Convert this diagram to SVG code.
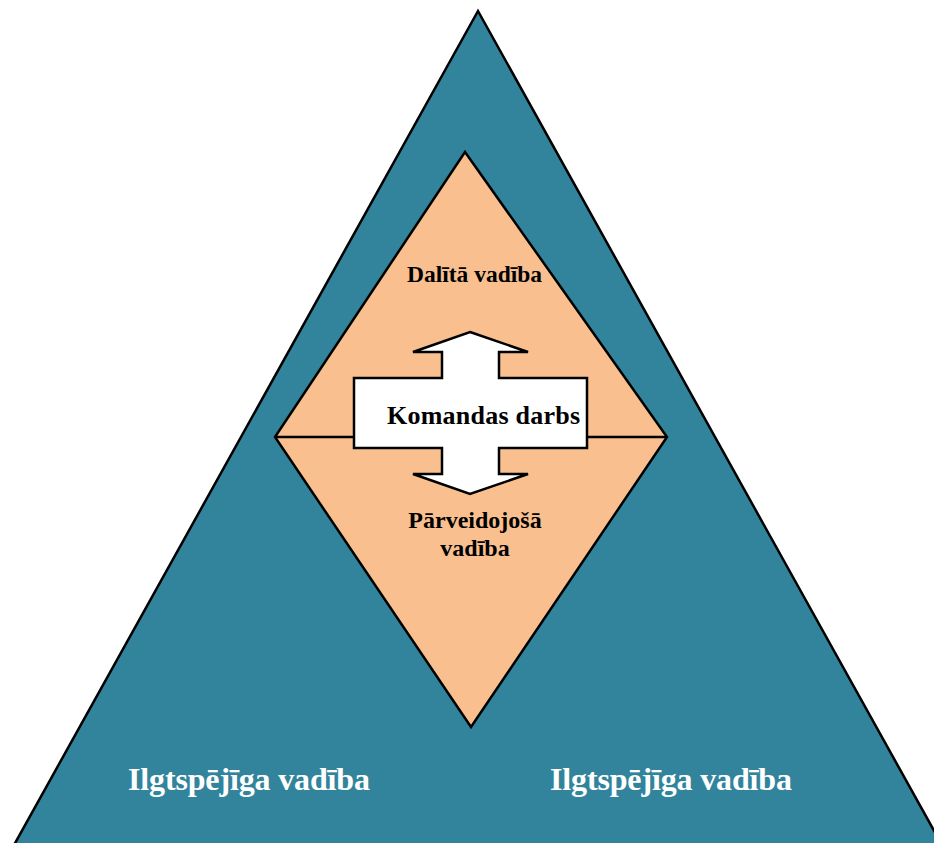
<svg xmlns="http://www.w3.org/2000/svg" width="934" height="843" viewBox="0 0 934 843">
<style>
.ol{stroke:#000;stroke-width:2.5;stroke-linejoin:miter}
.t{font-family:"Liberation Serif","Times New Roman",serif;font-weight:bold}
</style>
<rect width="934" height="843" fill="#fff"/>
<g id="triangle">
<polygon class="ol" points="478,11 942,845 14,845" fill="#31849b"/>
<text class="t" x="128" y="790" font-size="32" fill="#fff" textLength="242">Ilgtspējīga vadība</text>
<text class="t" x="550" y="790" font-size="32" fill="#fff" textLength="242">Ilgtspējīga vadība</text>
</g>
<g id="diamond">
<polygon class="ol" points="465,152 667,437 471,727 275,437" fill="#f9bf8f"/>
<line x1="275" y1="437" x2="667" y2="437" stroke="#000" stroke-width="2.5"/>
<text class="t" x="474.5" y="282" font-size="23.5" fill="#000" text-anchor="middle">Dalītā vadība</text>
<text class="t" x="475" y="528" font-size="24" fill="#000" text-anchor="middle">Pārveidojošā</text>
<text class="t" x="475" y="556" font-size="24" fill="#000" text-anchor="middle">vadība</text>
</g>
<g id="arrow">
<polygon class="ol" stroke-width="2" points="470,332 528,352 499,352 499,378 587,378 587,448 499,448 499,474 528,474 470,494 413,474 442,474 442,448 354,448 354,378 442,378 442,352 413,352" fill="#fff"/>
<text class="t" x="387" y="424" font-size="26" fill="#000" textLength="193">Komandas darbs</text>
</g>
</svg>
